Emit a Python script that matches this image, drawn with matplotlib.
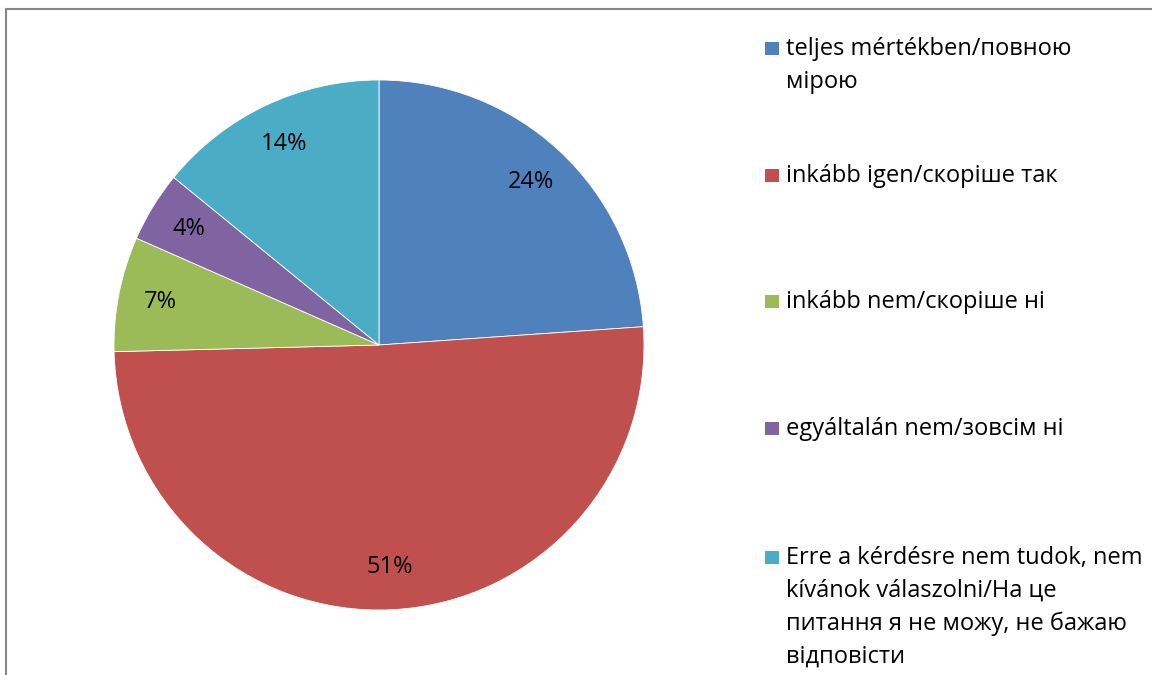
import matplotlib
matplotlib.use("Agg")
import matplotlib.pyplot as plt
from matplotlib.patches import Rectangle

plt.rcParams['font.family'] = ['Open Sans', 'DejaVu Sans']

# data
labels = [
    "teljes mértékben/повною\nмірою",
    "inkább igen/скоріше так",
    "inkább nem/скоріше ні",
    "egyáltalán nem/зовсім ні",
    "Erre a kérdésre nem tudok, nem\nkívánok válaszolni/На це\nпитання я не можу, не бажаю\nвідповісти",
]
shares = [23.9, 50.7, 7.0, 4.3, 14.1]
colors = ['#4F81BD', '#C0504D', '#9BBB59', '#8064A2', '#4BACC6']

W, H = 1152, 675
fig = plt.figure(figsize=(W / 100, H / 100), dpi=100)

# chart border (gray frame, running off the right/bottom edge)
fig.patches.append(Rectangle((6 / W, -0.1), 1.2, 1 - 9 / H + 0.1,
                             transform=fig.transFigure, fill=False,
                             edgecolor='#868686', linewidth=1.5))

# pie: centre (379, 345), radius 265 px
cx, cy, r = 379, 345, 265
ax = fig.add_axes([(cx - r) / W, (H - cy - r) / H, 2 * r / W, 2 * r / H])
wedges, texts, autotexts = ax.pie(
    shares, colors=colors, startangle=90, counterclock=False,
    autopct=lambda p: '%d%%' % round(p), pctdistance=0.84,
    wedgeprops=dict(linewidth=0.6, edgecolor='white'),
    textprops=dict(fontsize=17, color='black'))
ax.set_aspect('equal')
ax.set_xlim(-1, 1)
ax.set_ylim(-1, 1)

# legend drawn by hand so the marker sits on the first line
baselines = [55, 182, 308, 435, 564]
line_step = 33
for lab, col, yb in zip(labels, colors, baselines):
    fig.patches.append(Rectangle((765 / W, 1 - yb / H), 14 / W, 13 / H,
                                 transform=fig.transFigure, facecolor=col,
                                 edgecolor='none'))
    for i, line in enumerate(lab.split('\n')):
        fig.text(786 / W, 1 - (yb + i * line_step) / H, line, fontsize=17,
                 va='baseline', ha='left')

fig.savefig('out.png', dpi=100)
